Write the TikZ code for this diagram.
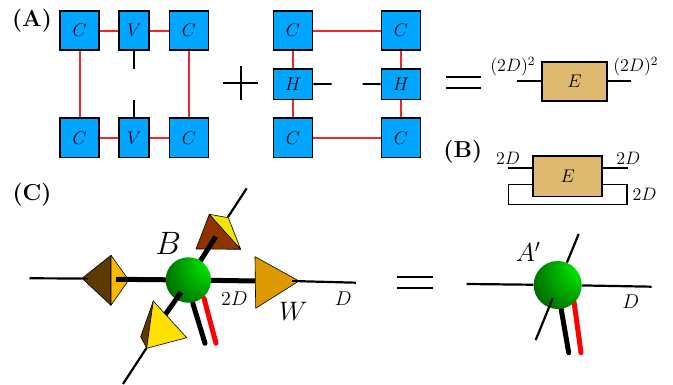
\documentclass[tikz,border=0pt]{standalone}
\usepackage{fix-cm}
\pgfdeclareradialshading{greenball}{\pgfpoint{28bp}{20bp}}{
  rgb(0bp)=(0,1,0);
  rgb(14bp)=(0,.8,0);
  rgb(40bp)=(0,.45,0);
  rgb(65bp)=(0,.22,0);
  rgb(88bp)=(0,.1,0)
}
\definecolor{tensorblue}{RGB}{0,166,255}
\definecolor{envtan}{RGB}{222,185,112}
\definecolor{bondred}{RGB}{238,40,40}
\definecolor{kitedark}{RGB}{94,58,0}
\definecolor{kitelight}{RGB}{255,184,0}
\definecolor{wedge}{RGB}{221,153,0}
\definecolor{rust}{RGB}{143,51,0}
\definecolor{lemon}{RGB}{238,230,0}
\definecolor{gold}{RGB}{255,224,0}
\begin{document}
\begin{tikzpicture}[
  x=0.025cm,
  y=-0.025cm,
  tensor/.style={
    rectangle,
    draw=black,
    fill=tensorblue,
    line width=0.42mm,
    minimum height=9.8mm,
    inner sep=0pt,
    font=\fontsize{13}{15}\selectfont
  },
  corner/.style={tensor, minimum width=9.8mm},
  vert/.style={tensor, minimum width=7.5mm},
  horiz/.style={tensor, minimum width=9.8mm, minimum height=7.6mm},
  envbox/.style={
    rectangle,
    draw=black,
    fill=envtan,
    line width=0.42mm,
    inner sep=0pt,
    font=\fontsize{13}{15}\selectfont
  },
  ball/.style={circle, draw=none, inner sep=0pt, shading=greenball},
  virtual/.style={draw=bondred, line width=0.45mm},
  leg/.style={draw=black, line width=0.45mm},
  sign/.style={draw=black, line width=0.5mm},
  thinleg/.style={draw=black, line width=0.55mm},
  fatleg/.style={draw=black, line width=1.25mm},
  physblack/.style={draw=black, line width=1.25mm, line cap=round},
  physred/.style={draw=red, line width=1.25mm, line cap=round},
  facet/.style={draw=black, line width=0.15mm, line join=round},
  title/.style={font=\fontsize{16.4}{18}\selectfont\bfseries},
  note/.style={font=\fontsize{12.8}{15}\selectfont, inner sep=0pt},
  dimlabel/.style={font=\fontsize{14.2}{16}\selectfont, inner sep=0pt}
]
\useasboundingbox (0,0) rectangle (673,385);

\node[title] (labA) at (32,21) {(A)};
\node[title] (labB) at (462.8,151.5) {(B)};
\node[title] (labC) at (32,195) {(C)};

% First ring of tensors.
\node[corner] (c1) at (79.6,30.7) {$C$};
\node[vert] (v1) at (134.3,30.7) {$V$};
\node[corner] (c2) at (189,30.7) {$C$};
\node[corner] (c3) at (79.6,137.8) {$C$};
\node[vert] (v2) at (134.3,137.8) {$V$};
\node[corner] (c4) at (189,137.8) {$C$};
\coordinate (v1end) at (134.3,69);
\coordinate (v2end) at (134.3,100);

\draw[virtual] (c1) -- (v1);
\draw[virtual] (v1) -- (c2);
\draw[virtual] (c3) -- (v2);
\draw[virtual] (v2) -- (c4);
\draw[virtual] (c1) -- (c3);
\draw[virtual] (c2) -- (c4);
\draw[leg] (v1) -- (v1end);
\draw[leg] (v2) -- (v2end);

% Plus sign.
\coordinate (plusw) at (223,83);
\coordinate (pluse) at (258,83);
\coordinate (plusn) at (240.5,66);
\coordinate (pluss) at (240.5,100);
\draw[sign] (plusw) -- (pluse);
\draw[sign] (plusn) -- (pluss);

% Second ring of tensors.
\node[corner] (c5) at (293,30.7) {$C$};
\node[corner] (c6) at (401,30.7) {$C$};
\node[horiz] (h1) at (293,84.3) {$H$};
\node[horiz] (h2) at (401,84.3) {$H$};
\node[corner] (c7) at (293,137.8) {$C$};
\node[corner] (c8) at (401,137.8) {$C$};
\coordinate (h1end) at (331.7,84);
\coordinate (h2end) at (362.7,84);

\draw[virtual] (c5) -- (c6);
\draw[virtual] (c7) -- (c8);
\draw[virtual] (c5) -- (h1);
\draw[virtual] (h1) -- (c7);
\draw[virtual] (c6) -- (h2);
\draw[virtual] (h2) -- (c8);
\draw[leg] (h1) -- (h1end);
\draw[leg] (h2) -- (h2end);

% Equals sign, first row.
\coordinate (eqa1) at (446,77.3);
\coordinate (eqa2) at (480.7,77.3);
\coordinate (eqb1) at (446,87.7);
\coordinate (eqb2) at (480.7,87.7);
\draw[sign] (eqa1) -- (eqa2);
\draw[sign] (eqb1) -- (eqb2);

\node[envbox, minimum width=16.4mm, minimum height=9.7mm] (e1) at (574.5,81.3) {$E$};
\coordinate (e1w) at (517.3,81.3);
\coordinate (e1e) at (631.3,81.3);
\draw[leg] (e1w) -- (e1);
\draw[leg] (e1) -- (e1e);
\node[note] (dim1) at (512.8,66.7) {$(2D)^2$};
\node[note] (dim2) at (635.8,66.7) {$(2D)^2$};

% Traced environment.
\node[envbox, minimum width=17.3mm, minimum height=10.2mm] (e2) at (567.7,176.2) {$E$};
\coordinate (e2nw) at (507.7,168.3);
\coordinate (e2ne) at (627.7,168.3);
\coordinate (e2sw) at (533,184.3);
\coordinate (e2se) at (602.3,184.3);
\draw[leg] (e2nw) -- (e2nw -| e2.west);
\draw[leg] (e2ne -| e2.east) -- (e2ne);
\draw[leg, line width=0.38mm] (e2sw) -- (508.3,184.3) |- (627,204.7) |- (e2se);
\node[note] (dim3) at (508,158.3) {$2D$};
\node[note] (dim4) at (628.3,158.3) {$2D$};
\node[note] (dim5) at (644.5,194) {$2D$};

% Left hand side of (C): legs under the ball.
\coordinate (tipl) at (116,279.3);
\coordinate (tipur) at (215.7,236.7);
\coordinate (tipll) at (181,292.3);
\coordinate (kitew) at (82,278.5);
\coordinate (farw) at (29.5,278.3);
\coordinate (wtip) at (299,281.2);
\coordinate (fare) at (356,282.7);
\coordinate (wbase) at (255,281);
\coordinate (wstub) at (291.7,281.2);
\coordinate (pyrur) at (228,217);
\coordinate (farur) at (246.7,188.3);
\coordinate (pyrll) at (146.5,348);
\coordinate (farll) at (123,384);
\coordinate (physa) at (192.7,303);
\coordinate (physb) at (205,343.3);
\coordinate (physc) at (204,298.3);
\coordinate (physd) at (216,343.3);

\draw[thinleg] (farw) -- (kitew);
\draw[thinleg] (wtip) -- (fare);
\draw[thinleg] (pyrur) -- (farur);
\draw[thinleg] (pyrll) -- (farll);

\filldraw[facet, fill=kitedark] (82,278.3) -- (111,255.3) -- (111,305.3) -- cycle;
\filldraw[facet, fill=kitelight] (111,255.3) -- (128.7,280) -- (111,305.3) -- cycle;
\filldraw[facet, fill=wedge] (255,256.7) -- (299,281) -- (255.7,308.3) -- cycle;
\filldraw[facet, fill=rust] (196,249) -- (209.3,214.3) -- (240.7,249.3) -- cycle;
\filldraw[facet, fill=lemon] (209.3,214.3) -- (228.3,217.7) -- (240.7,249.3) -- cycle;

\draw[physred] (physc) -- (physd);
\draw[physblack] (physa) -- (physb);
\draw[fatleg] (tipl) -- (188.3,280);
\draw[fatleg] (wbase) -- (188.3,280);
\draw[fatleg] (tipur) -- (188.3,280);
\node[ball, minimum size=11.35mm] (bball) at (188.3,280) {};
\draw[fatleg] (tipll) -- (165,315);
\draw[line width=0.65mm] (wstub) -- (wtip);
\draw[line width=0.4mm] (kitew) -- (88,278.6);

\filldraw[facet, fill=kitedark] (153.3,301) -- (140.7,336.7) -- (146.7,348.3) -- cycle;
\filldraw[facet, fill=gold] (153.3,301) -- (186.7,337.7) -- (146.7,348.3) -- cycle;

\node[font=\fontsize{23}{26}\selectfont, inner sep=0pt] (lbB) at (168.3,243.3) {$B$};
\node[dimlabel] (lbd) at (234.3,298.3) {$2D$};
\node[font=\fontsize{19}{22}\selectfont, inner sep=0pt] (lbW) at (293.3,311) {$W$};
\node[dimlabel] (lbD) at (343.3,298.3) {$D$};

% Equals sign, second row.
\coordinate (eqc1) at (397.3,277.3);
\coordinate (eqc2) at (432.7,277.3);
\coordinate (eqd1) at (397.3,287.7);
\coordinate (eqd2) at (432.7,287.7);
\draw[sign] (eqc1) -- (eqc2);
\draw[sign] (eqd1) -- (eqd2);

% Right hand side of (C).
\coordinate (aw) at (466.7,284);
\coordinate (ae) at (651.7,286.7);
\coordinate (aur) at (578.7,234);
\coordinate (allin) at (552.7,298.3);
\coordinate (allout) at (535.7,340);
\coordinate (aphysa) at (561,308);
\coordinate (aphysb) at (568.7,352.7);
\coordinate (aphysc) at (574,301.7);
\coordinate (aphysd) at (581,352.7);

\draw[physred] (aphysc) -- (aphysd);
\draw[physblack] (aphysa) -- (aphysb);
\node[ball, minimum size=12mm] (aball) at (557.7,285) {};
\draw[thinleg] (aw) -- (aball);
\draw[thinleg] (aball) -- (ae);
\draw[thinleg] (aball) -- (aur);
\draw[thinleg] (allin) -- (allout);

\node[font=\fontsize{18.5}{21}\selectfont, inner sep=0pt] (lbA) at (528.3,251.7) {$A'$};
\node[dimlabel] (lbDb) at (630.7,301.7) {$D$};

\end{tikzpicture}
\end{document}
